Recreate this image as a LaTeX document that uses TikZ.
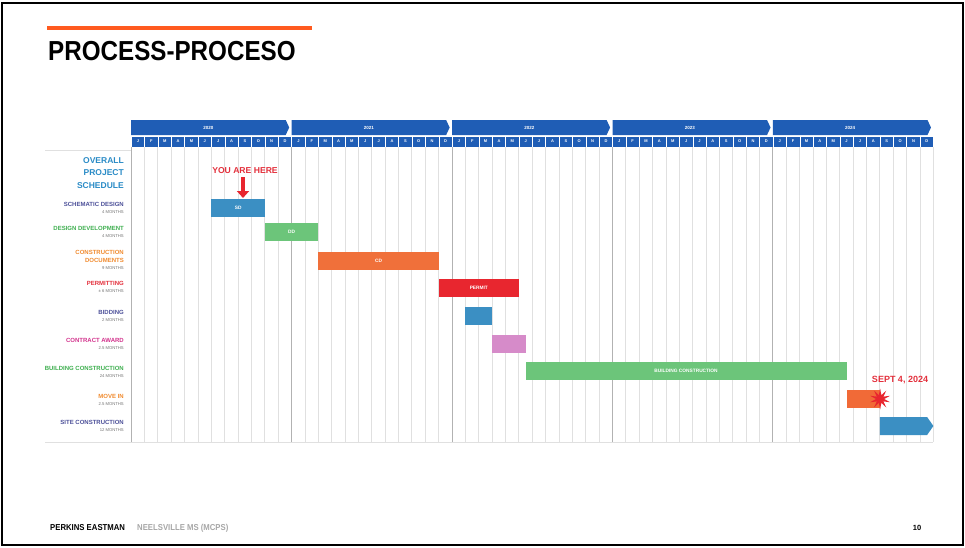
\documentclass[tikz,border=0pt]{standalone}
\usepackage{fontspec}
\setmainfont{Liberation Sans}
\usetikzlibrary{shapes.geometric,shapes.symbols,arrows.meta}
\definecolor{hdrblue}{HTML}{1F5DB5}
\definecolor{accent}{HTML}{FF5A1F}
\definecolor{sdblue}{HTML}{3B8FC3}
\definecolor{ddgreen}{HTML}{6CC57A}
\definecolor{cdorange}{HTML}{F0703A}
\definecolor{permred}{HTML}{E8262F}
\definecolor{awardpink}{HTML}{D68BC9}
\definecolor{lblblue}{HTML}{2A8BC6}
\definecolor{lblnavy}{HTML}{4B4F98}
\definecolor{lblgreen}{HTML}{3DAE4E}
\definecolor{lblorange}{HTML}{F08A2E}
\definecolor{lblred}{HTML}{E3303C}
\definecolor{lblpink}{HTML}{D2328C}
\def\mw{13.37}
\newcommand{\durtext}[1]{{\color{black!55}\mdseries\fontsize{4.2}{5}\selectfont #1}}
\begin{document}
\begin{tikzpicture}[x=1pt, y=-1pt,
		yearband/.style={signal, signal to=east, signal pointer angle=130, fill=hdrblue, minimum width=158, minimum height=15, inner sep=0pt, anchor=west, text=white, font=\bfseries\fontsize{4.5}{4.5}\selectfont},
		monthcell/.style={fill=hdrblue, draw=white, line width=0.6, minimum width=\mw, minimum height=11, inner sep=0pt, anchor=west, text=white, font=\bfseries\fontsize{4}{4}\selectfont},
		gridline/.style={draw=black!12, line width=0.6},
		yearline/.style={draw=black!30, line width=0.6},
		bar/.style={minimum height=18, inner sep=0pt, anchor=west, text=white, font=\bfseries\fontsize{4.8}{4.8}\selectfont},
		rowlabel/.style={anchor=east, align=right, inner sep=0pt, font=\bfseries\fontsize{6}{8}\selectfont}]
	\useasboundingbox (0,0) rectangle (965,547);
	\draw[line width=2] (2,3) rectangle (963,545);

	% title
	\draw[accent, line width=3.5] (47,28) -- (312,28);
	\node[anchor=west, inner sep=0pt, font=\bfseries\fontsize{27.5}{27.5}\selectfont] (title) at (48,51) {\scalebox{0.88}[1]{PROCESS-PROCESO}};

	% years and months
	\foreach \y [count=\k from 0] in {2020,2021,2022,2023,2024}
		\node[yearband] (y\k) at ({131+\k*12*\mw},127.5) {\y};
	\foreach \m [count=\i from 0] in {J,F,M,A,M,J,J,A,S,O,N,D,J,F,M,A,M,J,J,A,S,O,N,D,J,F,M,A,M,J,J,A,S,O,N,D,J,F,M,A,M,J,J,A,S,O,N,D,J,F,M,A,M,J,J,A,S,O,N,D}
		\node[monthcell] (m\i) at ({131+\i*\mw},141.5) {\m};

	% grid
	\foreach \i in {1,...,60}
		\draw[gridline] ({131+\i*\mw},147) -- ({131+\i*\mw},442);
	\foreach \i in {0,12,...,48}
		\draw[yearline] ({131+\i*\mw},147) -- ({131+\i*\mw},442);
	\draw[gridline] (45,150) -- (131,150);
	\draw[gridline] (45,442) -- (933,442);

	% row labels
	\node[anchor=east, align=right, inner sep=0pt, text=lblblue, font=\bfseries\fontsize{8.5}{12.5}\selectfont] (overall) at (124,173) {OVERALL\\PROJECT\\SCHEDULE};
	\node[rowlabel, text=lblnavy] (lsd) at (124,208) {SCHEMATIC DESIGN\\[-1pt]\durtext{4 MONTHS}};
	\node[rowlabel, text=lblgreen] (ldd) at (124,232) {DESIGN DEVELOPMENT\\[-1pt]\durtext{4 MONTHS}};
	\node[rowlabel, text=lblorange] (lcd) at (124,260) {CONSTRUCTION\\DOCUMENTS\\[-1pt]\durtext{9 MONTHS}};
	\node[rowlabel, text=lblred] (lpermit) at (124,287) {PERMITTING\\[-1pt]\durtext{± 6 MONTHS}};
	\node[rowlabel, text=lblnavy] (lbid) at (124,316) {BIDDING\\[-1pt]\durtext{2 MONTHS}};
	\node[rowlabel, text=lblpink] (laward) at (124,344) {CONTRACT AWARD\\[-1pt]\durtext{2.5 MONTHS}};
	\node[rowlabel, text=lblgreen] (lbc) at (124,372) {BUILDING CONSTRUCTION\\[-1pt]\durtext{24 MONTHS}};
	\node[rowlabel, text=lblorange] (lmove) at (124,400) {MOVE IN\\[-1pt]\durtext{2.5 MONTHS}};
	\node[rowlabel, text=lblnavy] (lsite) at (124,426) {SITE CONSTRUCTION\\[-1pt]\durtext{12 MONTHS}};

	% bars
	\node[bar, fill=sdblue, minimum width={4*\mw}] (sd) at ({131+6*\mw},208) {SD};
	\node[bar, fill=ddgreen, minimum width={4*\mw}] (dd) at ({131+10*\mw},232) {DD};
	\node[bar, fill=cdorange, minimum width={9*\mw}] (cd) at ({131+14*\mw},261) {CD};
	\node[bar, fill=permred, minimum width={6*\mw}] (permit) at ({131+23*\mw},288) {PERMIT};
	\node[bar, fill=sdblue, minimum width={2*\mw}] (bid) at ({131+25*\mw},316) {};
	\node[bar, fill=awardpink, minimum width={2.5*\mw}] (award) at ({131+27*\mw},344) {};
	\node[bar, fill=ddgreen, minimum width={24*\mw}] (bc) at ({131+29.5*\mw},371) {BUILDING CONSTRUCTION};
	\node[bar, fill=cdorange!95!red, minimum width={2.5*\mw}] (move) at ({131+53.5*\mw},399) {};
	\node[signal, signal to=east, signal pointer angle=110, fill=sdblue, minimum width={4*\mw}, minimum height=18, inner sep=0pt, anchor=west] (site) at ({131+56*\mw},426) {};

	% markers
	\node[text=lblred, font=\bfseries\fontsize{8.6}{8.6}\selectfont] (here) at (245,171) {YOU ARE HERE};
	\draw[permred, line width=4, -{Triangle[width=12pt,length=7pt]}] (243,177) -- (243,198);
	\node[star, star points=10, star point ratio=2.6, fill=permred, minimum size=21, inner sep=0pt] (mvstar) at (move.east) {};
	\node[text=lblred, font=\bfseries\fontsize{9}{9}\selectfont] (sept) at (900,380) {SEPT 4, 2024};

	% footer
	\node[anchor=west, inner sep=0pt, font=\bfseries\fontsize{8.6}{9}\selectfont] (firm) at (50,528) {\scalebox{0.9}[1]{PERKINS EASTMAN}};
	\node[anchor=west, inner sep=0pt, text=black!35, font=\bfseries\fontsize{8.6}{9}\selectfont] (proj) at (137,528) {\scalebox{0.9}[1]{NEELSVILLE MS (MCPS)}};
	\node[font=\bfseries\fontsize{7.5}{8}\selectfont] (page) at (917,528) {10};
\end{tikzpicture}
\end{document}
